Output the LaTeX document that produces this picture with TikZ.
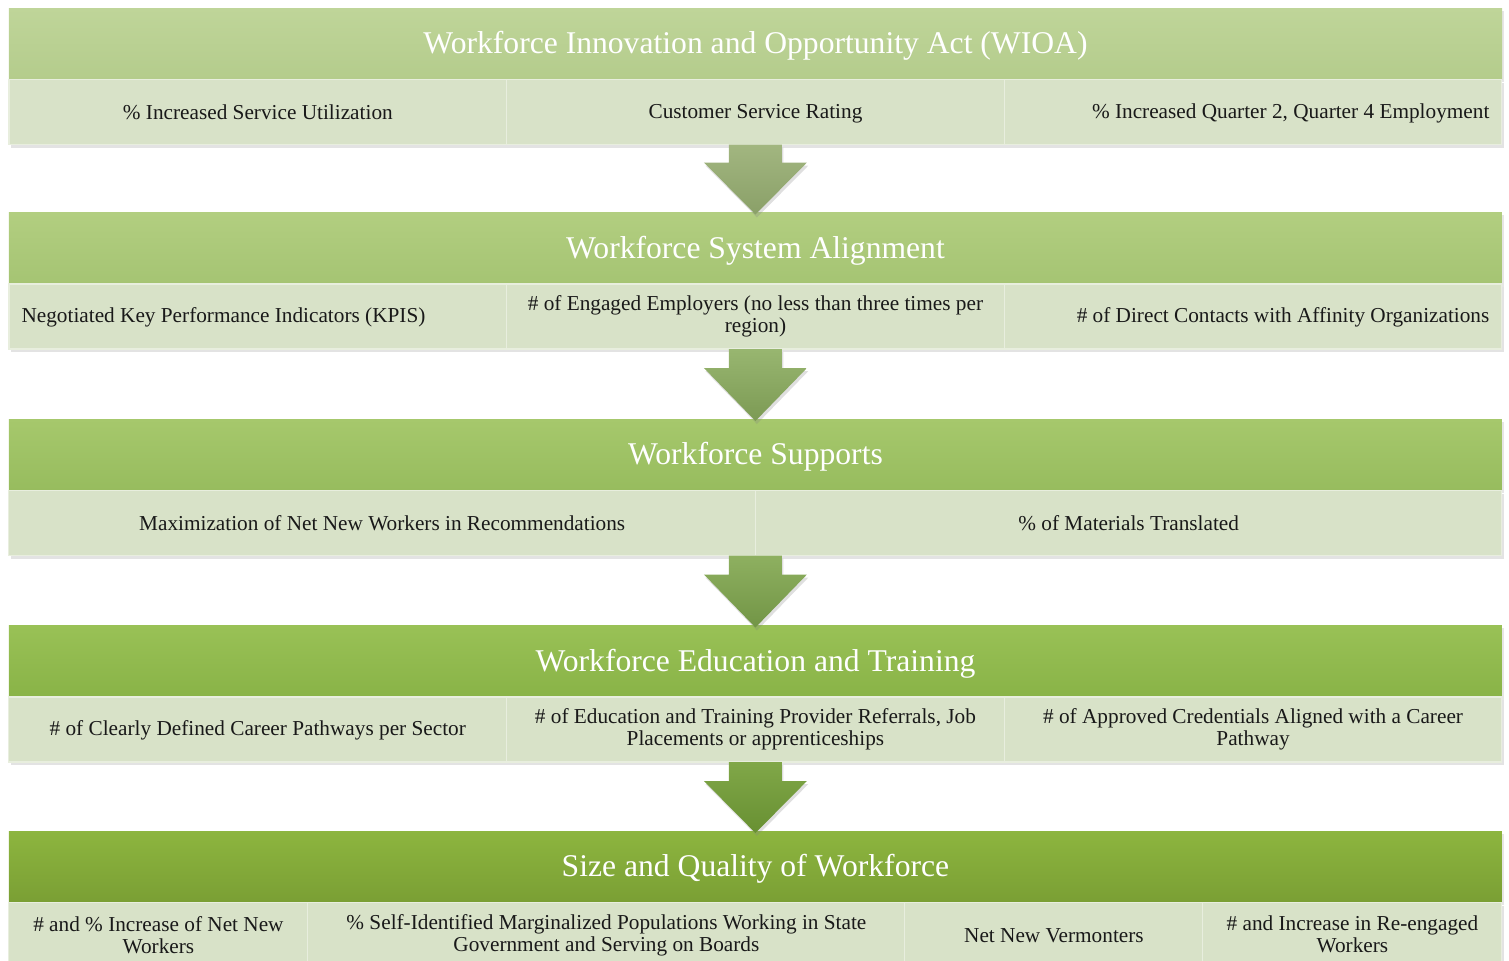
\documentclass[tikz,border=0pt]{standalone}
\usepackage{fontspec}
\setmainfont{Liberation Serif}
\usepackage{tikz}
\usetikzlibrary{positioning, calc, shadows}

\definecolor{rowfill}{RGB}{216,226,200}
\definecolor{rowline}{RGB}{232,238,222}
\definecolor{hAtop}{RGB}{191,213,153}
\definecolor{hAbot}{RGB}{180,204,140}
\definecolor{hBtop}{RGB}{178,206,128}
\definecolor{hBbot}{RGB}{165,196,115}
\definecolor{hCtop}{RGB}{166,200,108}
\definecolor{hCbot}{RGB}{151,188,94}
\definecolor{hDtop}{RGB}{153,193,86}
\definecolor{hDbot}{RGB}{137,179,71}
\definecolor{hEtop}{RGB}{141,181,63}
\definecolor{hEbot}{RGB}{122,159,52}
\definecolor{aAtop}{RGB}{162,182,128}
\definecolor{aAbot}{RGB}{138,160,104}
\definecolor{aBtop}{RGB}{152,182,112}
\definecolor{aBbot}{RGB}{124,154,84}
\definecolor{aCtop}{RGB}{142,176,96}
\definecolor{aCbot}{RGB}{114,149,70}
\definecolor{aDtop}{RGB}{128,167,72}
\definecolor{aDbot}{RGB}{104,144,50}

\begin{document}
\begin{tikzpicture}[
      head/.style={rectangle, minimum width=29.86cm, minimum height=1.43cm, inner sep=0pt, outer sep=0pt, text=white, font=\fontsize{18}{20}\selectfont, text height=12.5pt, text depth=1pt, drop shadow={opacity=0.2, shadow xshift=0.04cm, shadow yshift=-0.05cm}},
      cell/.style={rectangle, draw=rowline, line width=0.6pt, fill=rowfill, minimum width=9.953cm, minimum height=1.30cm, outer sep=0pt, align=center, text=black!90, font=\fontsize{12.1}{12.5}\selectfont, execute at begin node={\rule{0pt}{0.78em}}, execute at end node={\rule[-0.04em]{0pt}{0.04em}}, drop shadow={opacity=0.22, shadow xshift=0.04cm, shadow yshift=-0.06cm}},
      cellr/.style={cell, align=flush right, text width=9.45cm},
      celll/.style={cell, align=flush left, text width=9.45cm},
      flow/.style={drop shadow={opacity=0.25, shadow xshift=0.03cm, shadow yshift=-0.06cm}}
      ]

      \useasboundingbox (0,0) rectangle (30.18,-19.22);
      \clip (0,0) rectangle (30.18,-19.22);

      % WIOA
      \node[head, top color=hAtop, bottom color=hAbot, anchor=north west] (h1) at (0.18,-0.16) {Workforce Innovation and Opportunity Act (WIOA)};
      \node[cell, below right=0pt of h1.south west] (c11) {\% Increased Service Utilization};
      \node[cell, right=0pt of c11] (c12) {Customer Service Rating};
      \node[cellr, right=0pt of c12] (c13) {\% Increased Quarter 2, Quarter 4 Employment};

      % System alignment
      \node[head, top color=hBtop, bottom color=hBbot, below=1.36cm of c12] (h2) {Workforce System Alignment};
      \node[celll, below right=0pt of h2.south west] (c21) {Negotiated Key Performance Indicators (KPIS)};
      \node[cell, right=0pt of c21] (c22) {\# of Engaged Employers (no less than three times per\\region)};
      \node[cellr, right=0pt of c22] (c23) {\# of Direct Contacts with Affinity Organizations};

      % Supports
      \node[head, top color=hCtop, bottom color=hCbot, below=1.40cm of c22] (h3) {Workforce Supports};
      \node[cell, minimum width=14.93cm, below right=0pt of h3.south west] (c31) {Maximization of Net New Workers in Recommendations};
      \node[cell, minimum width=14.93cm, right=0pt of c31] (c32) {\% of Materials Translated};

      % Education and training
      \node[head, top color=hDtop, bottom color=hDbot, below=1.40cm of c31.south east] (h4) {Workforce Education and Training};
      \node[cell, below right=0pt of h4.south west] (c41) {\# of Clearly Defined Career Pathways per Sector};
      \node[cell, right=0pt of c41] (c42) {\# of Education and Training Provider Referrals, Job\\Placements or apprenticeships};
      \node[cell, right=0pt of c42] (c43) {\# of Approved Credentials Aligned with a Career\\Pathway};

      % Size and quality
      \node[head, top color=hEtop, bottom color=hEbot, below=1.38cm of c42] (h5) {Size and Quality of Workforce};
      \node[cell, minimum width=5.98cm, below right=0pt of h5.south west] (c51) {\# and \% Increase of Net New\\Workers};
      \node[cell, minimum width=11.94cm, right=0pt of c51] (c52) {\% Self-Identified Marginalized Populations Working in State\\Government and Serving on Boards};
      \node[cell, minimum width=5.96cm, right=0pt of c52] (c53) {Net New Vermonters};
      \node[cell, minimum width=5.98cm, right=0pt of c53] (c54) {\# and Increase in Re-engaged\\Workers};

      % Block arrows between the bands
      \path[flow, top color=aAtop, bottom color=aAbot] ($(c12.south)+(-0.53,0)$) -- ++(1.06,0) -- ++(0,-0.36) -- ++(0.5,0) -- ($(h2.north)+(0,-0.04)$) -- ($(c12.south)+(-1.03,-0.36)$) -- ++(0.5,0) -- cycle;
      \path[flow, top color=aBtop, bottom color=aBbot] ($(c22.south)+(-0.53,0)$) -- ++(1.06,0) -- ++(0,-0.38) -- ++(0.5,0) -- ($(h3.north)+(0,-0.04)$) -- ($(c22.south)+(-1.03,-0.38)$) -- ++(0.5,0) -- cycle;
      \path[flow, top color=aCtop, bottom color=aCbot] ($(c31.south east)+(-0.53,0)$) -- ++(1.06,0) -- ++(0,-0.38) -- ++(0.5,0) -- ($(h4.north)+(0,-0.04)$) -- ($(c31.south east)+(-1.03,-0.38)$) -- ++(0.5,0) -- cycle;
      \path[flow, top color=aDtop, bottom color=aDbot] ($(c42.south)+(-0.53,0)$) -- ++(1.06,0) -- ++(0,-0.38) -- ++(0.5,0) -- ($(h5.north)+(0,-0.04)$) -- ($(c42.south)+(-1.03,-0.38)$) -- ++(0.5,0) -- cycle;

   \end{tikzpicture}
\end{document}
